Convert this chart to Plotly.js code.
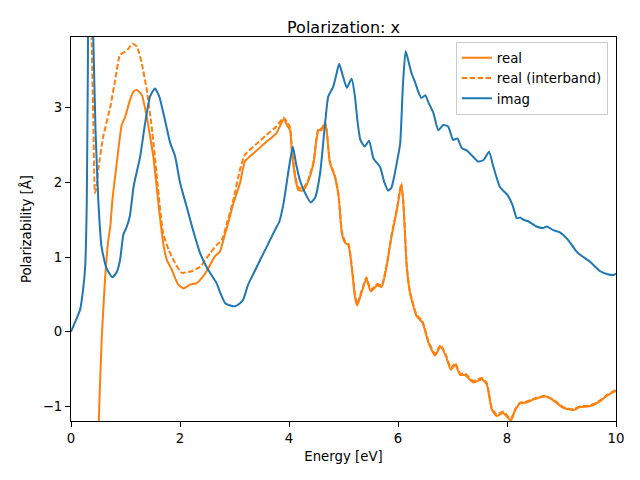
<!DOCTYPE html>
<html>
<head>
<meta charset="utf-8">
<script src="https://cdn.plot.ly/plotly-3.0.1.min.js"></script>
<style>html,body{margin:0;padding:0;background:#fff;}#plot{width:640px;height:480px;}</style>
</head>
<body>
<div id="plot"></div>
<script>
const realX = [0.45,0.51,0.56,0.62,0.68,0.72,0.76,0.84,0.93,0.99,1.08,1.15,1.21,1.30,1.39,1.45,1.51,1.57,1.63,1.70,1.76,1.85,1.91,1.97,2.06,2.12,2.18,2.31,2.40,2.49,2.57,2.64,2.73,2.83,2.90,2.98,3.10,3.19,3.30,3.41,3.50,3.59,3.68,3.77,3.87,3.91,3.96,4.02,4.05,4.11,4.17,4.26,4.35,4.45,4.54,4.60,4.66,4.69,4.75,4.84,4.91,4.97,5.03,5.09,5.15,5.21,5.25,5.33,5.42,5.50,5.62,5.70,5.79,5.88,5.98,6.06,6.10,6.16,6.22,6.34,6.45,6.56,6.68,6.78,6.88,6.97,7.05,7.14,7.23,7.38,7.54,7.63,7.72,7.81,7.93,8.07,8.15,8.24,8.35,8.48,8.70,8.85,9.03,9.22,9.34,9.52,9.71,9.83,10.0];
const realY = [-3.0,-1.20,-0.15,0.65,1.20,1.40,1.77,2.26,2.77,2.87,3.10,3.22,3.24,3.17,2.88,2.62,2.35,1.95,1.55,1.15,0.96,0.83,0.72,0.63,0.58,0.60,0.63,0.65,0.72,0.81,0.92,1.01,1.07,1.32,1.50,1.72,1.99,2.28,2.36,2.43,2.49,2.55,2.60,2.66,2.81,2.85,2.77,2.70,2.43,2.08,1.90,1.89,2.01,2.26,2.70,2.70,2.79,2.70,2.26,2.08,1.81,1.32,1.19,1.16,0.87,0.47,0.35,0.52,0.71,0.54,0.62,0.60,0.87,1.27,1.63,1.97,1.70,0.87,0.52,0.21,0.12,-0.15,-0.32,-0.20,-0.33,-0.51,-0.44,-0.58,-0.58,-0.68,-0.64,-0.71,-1.04,-1.13,-1.09,-1.19,-1.05,-0.96,-0.95,-0.91,-0.87,-0.92,-1.02,-1.05,-1.01,-1.00,-0.93,-0.86,-0.79];

const interX = [0.33,0.38,0.41,0.44,0.47,0.50,0.59,0.72,0.81,0.90,0.99,1.05,1.13,1.21,1.30,1.39,1.48,1.57,1.63,1.69,1.79,1.91,2.03,2.21,2.37,2.55,2.67,2.77,2.86,2.98,3.10,3.19,3.41,3.59,3.77,3.90,3.96,4.02,4.05,4.11,4.17,4.26,4.35,4.45,4.54,4.60,4.66,4.69,4.75,4.84,4.91,4.97,5.03,5.09,5.15,5.21,5.25,5.33,5.42,5.50,5.62,5.70,5.79,5.88,5.98,6.06,6.10,6.16,6.22,6.34,6.45,6.56,6.68,6.78,6.88,6.97,7.05,7.14,7.23,7.38,7.54,7.63,7.72,7.81,7.93,8.07,8.15,8.24,8.35,8.48,8.70,8.85,9.03,9.22,9.34,9.52,9.71,9.83,10.0];
const interY = [6.0,3.86,2.80,1.86,1.95,2.17,2.61,3.01,3.37,3.71,3.75,3.79,3.86,3.82,3.59,3.24,2.75,2.12,1.68,1.32,1.10,0.92,0.79,0.81,0.87,1.05,1.16,1.23,1.45,1.77,2.17,2.37,2.52,2.64,2.75,2.87,2.81,2.74,2.47,2.12,1.93,1.92,2.03,2.28,2.72,2.72,2.81,2.72,2.28,2.10,1.83,1.34,1.21,1.18,0.89,0.49,0.37,0.54,0.73,0.56,0.64,0.62,0.89,1.29,1.65,1.99,1.72,0.89,0.54,0.23,0.14,-0.13,-0.30,-0.18,-0.31,-0.49,-0.42,-0.56,-0.56,-0.66,-0.62,-0.69,-1.02,-1.11,-1.07,-1.17,-1.04,-0.95,-0.94,-0.90,-0.86,-0.91,-1.01,-1.04,-1.00,-0.99,-0.92,-0.85,-0.78];

const imagX = [0.00,0.07,0.165,0.22,0.26,0.29,0.31,0.34,0.37,0.41,0.45,0.50,0.56,0.65,0.76,0.84,0.90,0.96,1.02,1.08,1.15,1.27,1.35,1.45,1.54,1.62,1.72,1.82,1.91,2.00,2.12,2.24,2.37,2.50,2.67,2.75,2.83,2.92,3.01,3.10,3.16,3.25,3.35,3.47,3.60,3.74,3.82,3.90,4.00,4.07,4.13,4.20,4.30,4.40,4.48,4.57,4.65,4.72,4.81,4.87,4.92,4.98,5.06,5.15,5.21,5.26,5.31,5.39,5.47,5.55,5.67,5.75,5.82,5.88,5.93,6.00,6.04,6.09,6.14,6.20,6.25,6.31,6.37,6.43,6.50,6.56,6.65,6.74,6.83,6.92,7.01,7.09,7.17,7.26,7.37,7.47,7.57,7.67,7.75,7.87,8.01,8.10,8.18,8.24,8.30,8.39,8.54,8.67,8.73,8.85,8.97,9.12,9.28,9.40,9.52,9.62,9.71,9.85,9.95,10.0];
const imagY = [0.00,0.12,0.29,0.55,0.87,1.77,3.6,5.0,5.0,3.9,2.7,1.77,1.14,0.85,0.73,0.80,0.96,1.30,1.40,1.55,1.95,2.35,2.75,3.15,3.26,3.15,2.85,2.53,2.35,2.00,1.68,1.36,1.05,0.85,0.65,0.50,0.38,0.35,0.34,0.38,0.43,0.63,0.78,0.96,1.15,1.36,1.47,1.72,2.20,2.48,2.25,2.03,1.85,1.73,1.80,2.12,2.70,3.15,3.28,3.45,3.59,3.45,3.27,3.39,3.15,2.80,2.57,2.48,2.56,2.32,2.21,2.00,1.89,1.93,2.08,2.35,2.52,3.3,3.76,3.60,3.46,3.35,3.22,3.13,3.17,3.07,2.93,2.70,2.77,2.75,2.57,2.59,2.46,2.43,2.35,2.28,2.30,2.41,2.21,1.94,1.83,1.70,1.52,1.53,1.50,1.48,1.41,1.39,1.41,1.36,1.33,1.23,1.07,1.00,0.94,0.87,0.81,0.77,0.76,0.78];

const xTicks = [0,2,4,6,8,10];
const yTicks = [-1,0,1,2,3];

const font = {family: 'DejaVu Sans, sans-serif', size: 13.3, color: '#000'};
const traces = [
  {x: realX, y: realY, name: 'real', mode: 'lines', line: {color: '#ff7f0e', width: 2, shape: 'spline', smoothing: 0.5}},
  {x: interX, y: interY, name: 'real (interband)', mode: 'lines', line: {color: '#ff7f0e', width: 2, dash: '5.5px,2.4px', shape: 'spline', smoothing: 0.5}},
  {x: imagX, y: imagY, name: 'imag', mode: 'lines', line: {color: '#1f77b4', width: 2, shape: 'spline', smoothing: 0.5}}
];
const axisCommon = {showline: true, linecolor: '#000', linewidth: 1, mirror: true, ticks: 'outside', ticklen: 5, tickwidth: 1, tickcolor: '#000', showgrid: false, zeroline: false, tickfont: font, automargin: false};
const layout = {
  width: 640, height: 480,
  margin: {l: 71, r: 24, t: 37, b: 59},
  paper_bgcolor: '#fff', plot_bgcolor: '#fff',
  font: font,
  title: {text: 'Polarization: x', font: {family: 'DejaVu Sans, sans-serif', size: 16, color: '#000'}, x: 0.5, xanchor: 'center', xref: 'paper', y: 1, yref: 'paper', yanchor: 'bottom', pad: {b: 4}},
  xaxis: Object.assign({}, axisCommon, {range: [0, 10], tickvals: xTicks, ticktext: xTicks.map(String), title: {text: 'Energy [eV]', font: font, standoff: 6}}),
  yaxis: Object.assign({}, axisCommon, {range: [-1.197, 3.949], tickvals: yTicks, ticktext: yTicks.map(v => v < 0 ? '\u2212' + Math.abs(v) : String(v)), title: {text: 'Polarizability [Å]', font: font, standoff: 8}}),
  showlegend: true,
  legend: {x: 0.985, y: 0.988, xanchor: 'right', yanchor: 'top', bgcolor: 'rgba(255,255,255,0.8)', bordercolor: '#cccccc', borderwidth: 1, font: font, tracegroupgap: 0}
};
Plotly.newPlot('plot', traces, layout, {staticPlot: true, displayModeBar: false});
</script>
</body>
</html>
